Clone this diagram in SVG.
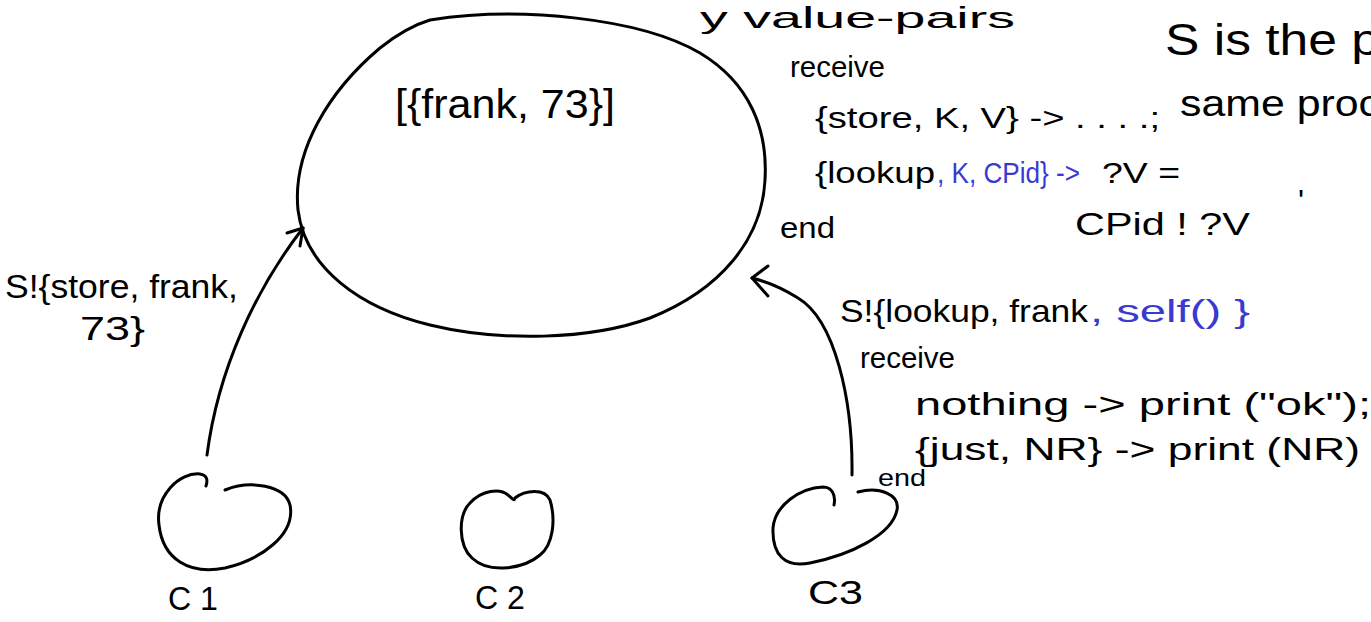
<svg xmlns="http://www.w3.org/2000/svg" width="1371" height="622" viewBox="0 0 1371 622">
<style>
.s{fill:none;stroke:#000;stroke-width:3;stroke-linecap:round;stroke-linejoin:round}
.t{font-family:"Liberation Sans","DejaVu Sans",sans-serif;fill:#000}
.b{fill:#3a3ad0}
</style>
<rect width="1371" height="622" fill="#fff"/>
<g id="store">
<path class="s" d="M 430,20 C 520,6 640,18 700,53 C 750,83 768,130 765,180 C 762,240 720,290 650,318 C 590,340 500,342 430,325 C 360,308 305,268 298,210 C 292,150 330,90 380,48 C 395,36 410,26 430,20 Z"/>
<text class="t" x="395" y="118" font-size="40" textLength="220" lengthAdjust="spacingAndGlyphs">[{frank, 73}]</text>
</g>
<g id="c1">
<path class="s" d="M 225,490 C 250,480 285,485 290,505 C 296,535 260,560 225,568 C 190,575 163,560 159,525 C 155,495 180,472 200,474 C 207,475 208,480 206,486"/>
<text class="t" x="168" y="610" font-size="34" textLength="50" lengthAdjust="spacingAndGlyphs">C 1</text>
</g>
<g id="c2">
<path class="s" d="M 515,498 C 525,490 545,488 550,500 C 556,520 553,545 540,555 C 525,568 490,575 472,558 C 458,545 458,515 470,503 C 482,490 500,488 508,495 C 512,498 514,502 515,498 Z"/>
<text class="t" x="475" y="609" font-size="34" textLength="50" lengthAdjust="spacingAndGlyphs">C 2</text>
</g>
<g id="c3">
<path class="s" d="M 858,492 C 880,486 900,495 897,510 C 892,535 850,555 810,563 C 785,568 772,555 773,528 C 775,505 800,488 823,487 C 832,487 836,495 834,505"/>
<text class="t" x="808" y="604" font-size="34" textLength="55" lengthAdjust="spacingAndGlyphs">C3</text>
</g>
<g id="connectors">
<path class="s" d="M 207,455 C 218,370 255,290 303,228"/>
<path class="s" d="M 287,233 L 303,228 L 300,246"/>
<path class="s" d="M 852,475 C 853,400 835,320 798,298 C 782,288 768,282 752,278"/>
<path class="s" d="M 768,266 L 752,278 L 768,296"/>
</g>
<g id="labels">
<text class="t" x="5" y="298" font-size="34" textLength="233" lengthAdjust="spacingAndGlyphs">S!{store, frank,</text>
<text class="t" x="80" y="340" font-size="34" textLength="65" lengthAdjust="spacingAndGlyphs">73}</text>
<text class="t" x="700" y="28" font-size="30" textLength="315" lengthAdjust="spacingAndGlyphs">y value-pairs</text>
<text class="t" x="790" y="77" font-size="30" textLength="95" lengthAdjust="spacingAndGlyphs">receive</text>
<text class="t" x="815" y="128" font-size="30" textLength="345" lengthAdjust="spacingAndGlyphs">{store, K, V} -&gt; . . . .;</text>
<text class="t" x="815" y="183" font-size="30" textLength="120" lengthAdjust="spacingAndGlyphs">{lookup</text>
<text class="t b" x="937" y="183" font-size="30" textLength="143" lengthAdjust="spacingAndGlyphs">, K, CPid} -&gt;</text>
<text class="t" x="1102" y="183" font-size="30" textLength="78" lengthAdjust="spacingAndGlyphs">?V =</text>
<text class="t" x="780" y="238" font-size="30" textLength="55" lengthAdjust="spacingAndGlyphs">end</text>
<text class="t" x="1075" y="235" font-size="32" textLength="175" lengthAdjust="spacingAndGlyphs">CPid ! ?V</text>
<text class="t" x="1298" y="212" font-size="32">'</text>
<text class="t" x="1165" y="55" font-size="44" textLength="215" lengthAdjust="spacingAndGlyphs">S is the p</text>
<text class="t" x="1180" y="116" font-size="36" textLength="200" lengthAdjust="spacingAndGlyphs">same proc</text>
<text class="t" x="840" y="322" font-size="32" textLength="248" lengthAdjust="spacingAndGlyphs">S!{lookup, frank</text>
<text class="t b" x="1090" y="322" font-size="32" textLength="160" lengthAdjust="spacingAndGlyphs">, self() }</text>
<text class="t" x="860" y="368" font-size="30" textLength="95" lengthAdjust="spacingAndGlyphs">receive</text>
<text class="t" x="915" y="415" font-size="32" textLength="456" lengthAdjust="spacingAndGlyphs">nothing -&gt; print ("ok");</text>
<text class="t" x="915" y="460" font-size="32" textLength="445" lengthAdjust="spacingAndGlyphs">{just, NR} -&gt; print (NR)</text>
<text class="t" x="878" y="486" font-size="24" textLength="48" lengthAdjust="spacingAndGlyphs">end</text>
</g>
</svg>
